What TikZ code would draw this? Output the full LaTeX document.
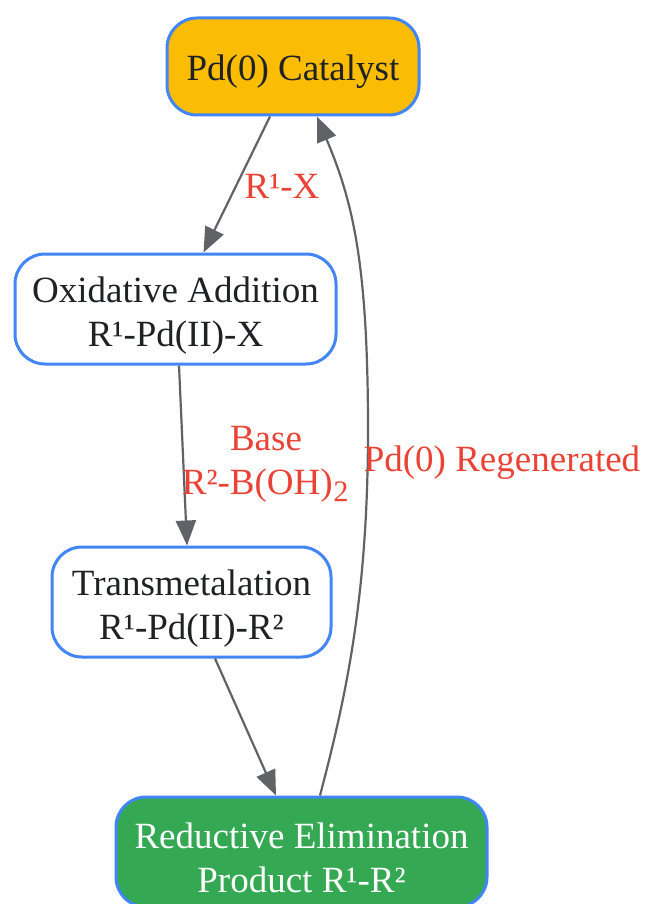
\documentclass[tikz,border=0pt]{standalone}
\usepackage{fontspec}
\setmainfont{Liberation Serif}
\usetikzlibrary{arrows.meta,calc}
\definecolor{gblue}{HTML}{4285F4}
\definecolor{gyellow}{HTML}{FBBC04}
\definecolor{ggreen}{HTML}{34A853}
\definecolor{gred}{HTML}{EA4335}
\definecolor{ggray}{HTML}{5F6368}
\definecolor{gtext}{HTML}{202124}
\newcommand\mystrut[1]{\rule{0pt}{#1}}
\newcommand\bigsubtwo{\raisebox{2.5pt}{\fontsize{50}{44}\selectfont ₂}}
\begin{document}
\begin{tikzpicture}[x=1pt,y=-1pt,
  bigtext/.style={font=\fontsize{37}{44}\selectfont},
  stepbox/.style={bigtext,draw=gblue,line width=3pt,rounded corners=30pt,fill=white,text=gtext,
     align=center,inner sep=0pt,minimum height=110pt},
  conn/.style={draw=ggray,line width=2.2pt,-{Triangle[length=25pt,width=20pt]}},
  lbl/.style={bigtext,text=gred,align=center,inner sep=0pt}]
\useasboundingbox (0,0) rectangle (647,904);
\node[stepbox,fill=gyellow,minimum width=252pt,minimum height=97pt] (pd) at (293,66.5) {\mystrut{36pt}Pd(0) Catalyst};
\node[stepbox,minimum width=321pt] (ox) at (175.5,309) {\mystrut{38pt}Oxidative Addition\\R¹-Pd(II)-X};
\node[stepbox,minimum width=279pt] (tm) at (191.5,602) {\mystrut{38pt}Transmetalation\\R¹-Pd(II)-R²};
\node[stepbox,fill=ggreen,text=white,minimum width=371pt] (re) at (301.5,852) {\mystrut{38pt}Reductive Elimination\\Product R¹-R²};
\draw[conn] ($(pd.south)+(-23,0)$) -- ($(ox.north)+(28,0)$);
\draw[conn] ($(ox.south)+(3.5,0)$) -- ($(tm.north)+(-4.5,0)$);
\draw[conn] ($(tm.south)+(23.5,0)$) -- ($(re.north)+(-25.5,0)$);
\draw[conn] ($(re.north)+(18.5,0)$) .. controls (345,700) and (368,600) .. (368,430)
   .. controls (368,260) and (352,200) .. ($(pd.south)+(24,0)$);
\node[lbl] (l1) at (282,186) {R¹-X};
\node[lbl] (l2) at (266,464) {Base\\R²-B(OH)\bigsubtwo};
\node[lbl] (l3) at (502,463) {Pd(0) Regenerated};
\end{tikzpicture}
\end{document}
